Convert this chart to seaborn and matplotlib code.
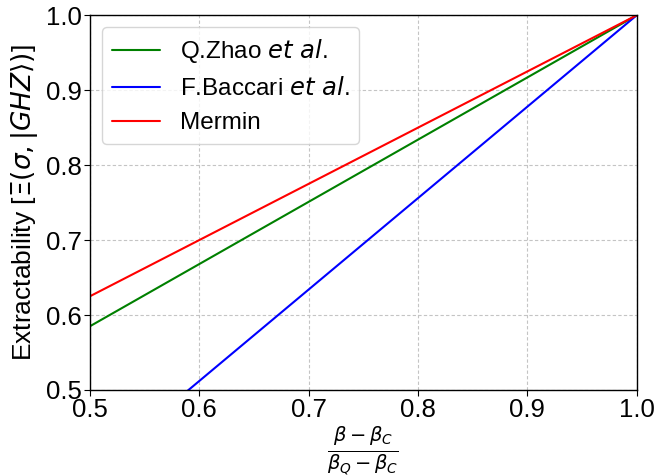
import numpy as np
import pandas as pd
import seaborn as sns
import matplotlib
matplotlib.use('Agg')
import matplotlib.pyplot as plt

# end points of each curve (x = normalised violation, y = extractability)
x_vals = [0.5, 1.0]
zhao = [0.585, 1.0]
baccari = [0.39, 1.0]
mermin = [0.625, 1.0]
labels = ['Q.Zhao $et\\ al$.', 'F.Baccari $et\\ al$.', 'Mermin']
colors = ['green', 'blue', 'red']

df = pd.concat([
    pd.DataFrame({'x': x_vals, 'y': zhao, 'curve': labels[0]}),
    pd.DataFrame({'x': x_vals, 'y': baccari, 'curve': labels[1]}),
    pd.DataFrame({'x': x_vals, 'y': mermin, 'curve': labels[2]}),
])

sns.set_style('ticks')
plt.rcParams['font.family'] = ['Liberation Sans', 'DejaVu Sans']
plt.rcParams['mathtext.fontset'] = 'dejavusans'
plt.rcParams['text.color'] = 'black'
plt.rcParams['axes.labelcolor'] = 'black'

fig = plt.figure(figsize=(6.71, 4.75), dpi=100)
ax = fig.add_axes([0.134, 0.179, 0.815, 0.789])
sns.lineplot(data=df, x='x', y='y', hue='curve', palette=colors,
             hue_order=labels, linewidth=1.5, ax=ax)

ax.set_xlim(0.5, 1.0)
ax.set_ylim(0.5, 1.0)
ax.set_xticks(np.arange(0.5, 1.01, 0.1))
ax.set_yticks(np.arange(0.5, 1.01, 0.1))
ax.grid(True, linestyle=(0, (3, 2)), color='#c4c4c4', linewidth=0.8)
ax.tick_params(labelsize=18.5, direction='out', length=4, colors='black', pad=2)
for s in ax.spines.values():
    s.set_color('black')
    s.set_linewidth(1.0)

ax.set_xlabel(r'$\frac{\beta-\beta_C}{\beta_Q-\beta_C}$', fontsize=20, labelpad=2)
ax.set_ylabel(r'Extractability [$\Xi(\sigma, |GHZ\rangle)$]', fontsize=19)
leg = ax.legend(title=None, fontsize=17.5, loc='upper left', framealpha=0.8)
for t in leg.get_texts():
    t.set_color('black')

fig.savefig('out.png', dpi=100)
